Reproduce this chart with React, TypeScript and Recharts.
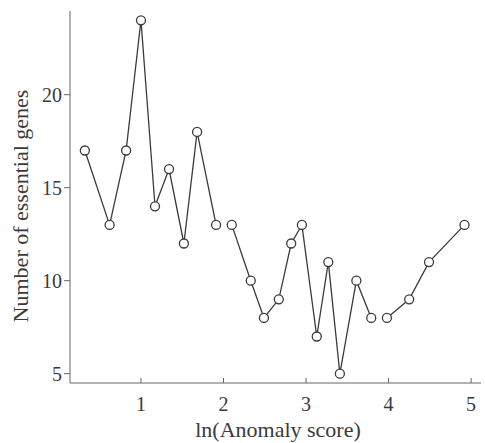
import React from 'react';
import { LineChart, Line, XAxis, YAxis } from 'recharts';

const lnScore = [0.32, 0.62, 0.82, 1.0, 1.17, 1.34, 1.52, 1.68, 1.91, 2.1, 2.33, 2.49, 2.67, 2.82, 2.95, 3.13, 3.27, 3.41, 3.61, 3.79, 3.98, 4.25, 4.49, 4.92];
const essentialGenes = [17, 13, 17, 24, 14, 16, 12, 18, 13, 13, 10, 8, 9, 12, 13, 7, 11, 5, 10, 8, 8, 9, 11, 13];
const segmentStarts = [0, 9, 20];
const xTicks = [1, 2, 3, 4, 5];
const yTicks = [5, 10, 15, 20];

const points = lnScore.map((x, i) => ({ x, y: essentialGenes[i] }));
const segments = segmentStarts.map((s, i) => points.slice(s, i + 1 < segmentStarts.length ? segmentStarts[i + 1] : points.length));

const FONT = '"Liberation Serif", "Times New Roman", serif';
const INK = '#3a3a3a';

const XTick = (props: any) => {
  const { x, y, payload } = props;
  return (
    <g>
      <line x1={x} y1={y} x2={x} y2={y - 5} stroke="#666" strokeWidth={1} />
      <text x={x} y={y + 28} textAnchor="middle" fontFamily={FONT} fontSize={20} fill={INK}>
        {payload.value}
      </text>
    </g>
  );
};

const Dot = (props: any) => {
  const { cx, cy } = props;
  return <circle cx={cx} cy={cy} r={4.5} fill="#fff" stroke={INK} strokeWidth={1.3} />;
};

export default function App() {
  return (
    <div style={{ position: 'absolute', left: 0, top: 0, background: '#fff' }}>
      <LineChart width={485} height={443} margin={{ top: 11, right: 4, bottom: 0, left: 0 }}>
        <XAxis
          dataKey="x"
          type="number"
          domain={[0.14, 5.12]}
          ticks={xTicks}
          tickSize={0}
          tickMargin={0}
          tickLine={false}
          tick={<XTick />}
          height={60}
          stroke="#666"
          allowDataOverflow
          label={{
            content: () => (
              <text x={278} y={437} textAnchor="middle" fontFamily={FONT} fontSize={22} fill={INK}>
                ln(Anomaly score)
              </text>
            ),
          }}
        />
        <YAxis
          type="number"
          domain={[4.5, 24.5]}
          ticks={yTicks}
          width={70}
          tickSize={6}
          tickMargin={2}
          stroke="#666"
          allowDataOverflow
          tick={{ fontFamily: FONT, fontSize: 20, fill: INK }}
          label={{
            content: () => (
              <text
                x={20}
                y={206}
                transform="rotate(-90 20 206)"
                textAnchor="middle"
                dominantBaseline="central"
                fontFamily={FONT}
                fontSize={22}
                fill={INK}
              >
                Number of essential genes
              </text>
            ),
          }}
        />
        {segments.map((seg, i) => (
          <Line
            key={i}
            data={seg}
            dataKey="y"
            type="linear"
            stroke={INK}
            strokeWidth={1.3}
            dot={<Dot />}
            activeDot={false}
            isAnimationActive={false}
          />
        ))}
      </LineChart>
    </div>
  );
}
